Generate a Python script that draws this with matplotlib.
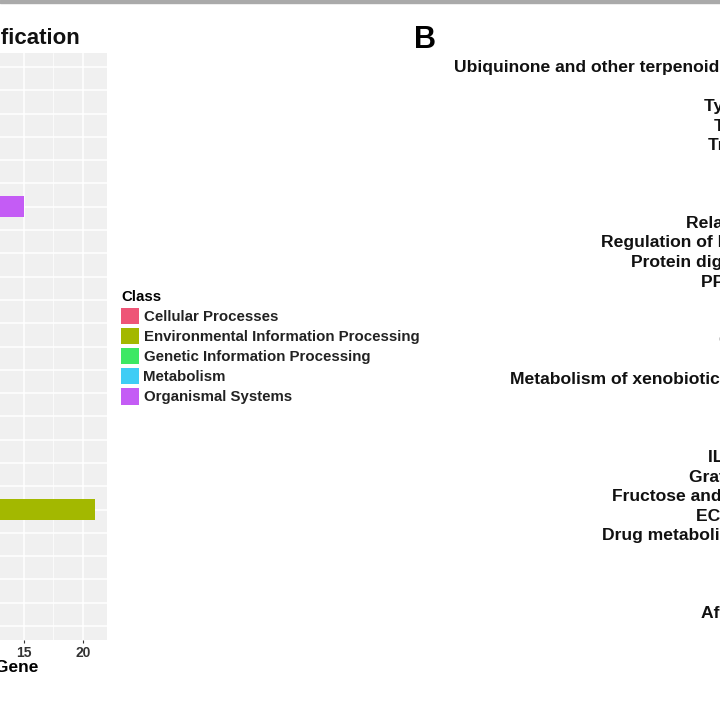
import matplotlib
matplotlib.use("Agg")
import matplotlib.pyplot as plt
from matplotlib.patches import Rectangle, Patch

plt.rcParams['font.family'] = ['Liberation Sans', 'DejaVu Sans']

# ---------------- data: panel A (KEGG classification) ----------------
classes = ["Cellular Processes", "Environmental Information Processing",
           "Genetic Information Processing", "Metabolism", "Organismal Systems"]
class_colors = ["#EE5577", "#A3B800", "#3DE864", "#3FCDF5", "#C45CF5"]

# listed top to bottom
categories = [
    "Sensory system", "Nervous system", "Excretory system", "Environmental adaptation",
    "Endocrine system", "Digestive system", "Immune system", "Circulatory system", "Aging",
    "Xenobiotics biodegradation and metabolism", "Metabolism of terpenoids and polyketides",
    "Metabolism of cofactors and vitamins", "Metabolism of other amino acids",
    "Lipid metabolism", "Glycan biosynthesis and metabolism", "Carbohydrate metabolism",
    "Amino acid metabolism",
    "Translation", "Folding, sorting and degradation",
    "Signal transduction", "Signaling molecules and interaction",
    "Transport and catabolism", "Cellular community - eukaryotes", "Cell motility",
    "Cell growth and death",
]
category_class = [4] * 9 + [3] * 8 + [2] * 2 + [1] * 2 + [0] * 4
gene_counts = [2, 6, 3, 2, 11, 7, 15, 4, 3,
               6, 2, 4, 3, 9, 3, 8, 5,
               2, 3,
               21, 12,
               5, 6, 3, 7]
x_ticks = [0, 5, 10, 15, 20]

# ---------------- data: panel B (enriched pathways, top to bottom) ----------------
pathways = [
    "Ubiquinone and other terpenoid-quinone biosynthesis", "Malaria",
    "Type II diabetes mellitus", "TNF signaling pathway", "Tryptophan metabolism",
    "Phagosome", "Lysosome", "Apoptosis",
    "Relaxin signaling pathway", "Regulation of lipolysis in adipocytes",
    "Protein digestion and absorption", "PPAR signaling pathway",
    "Pertussis", "Measles", "Galactose metabolism", "Asthma",
    "Metabolism of xenobiotics by cytochrome P450",
    "Necroptosis", "Tuberculosis", "Ferroptosis",
    "IL-17 signaling pathway", "Graft-versus-host disease",
    "Fructose and mannose metabolism", "ECM-receptor interaction",
    "Drug metabolism - cytochrome P450",
    "Leishmaniasis", "Toxoplasmosis", "Influenza A",
    "African trypanosomiasis", "Shigellosis",
]

W = H = 720
fig = plt.figure(figsize=(7.2, 7.2), dpi=100)

def px_rect(x0, y_top, x1, y_bot):
    return [x0 / W, 1 - y_bot / H, (x1 - x0) / W, (y_bot - y_top) / H]

# top gray strip
fig.patches.append(Rectangle((0, 1 - 3 / H), 1, 3 / H, transform=fig.transFigure,
                             color="#AAAAAA", zorder=0))

# ---------------- panel A ----------------
axA = fig.add_axes(px_rect(-165, 53, 107, 640))
axA.set_facecolor("#F0F0F0")
n = len(categories)
ypos = list(range(n))
for ci, cname in enumerate(classes):
    ys = [y for y, c in zip(ypos, category_class) if c == ci]
    vs = [v for v, c in zip(gene_counts, category_class) if c == ci]
    axA.barh(ys, vs, height=0.9, color=class_colors[ci], label=cname, zorder=3)
axA.set_ylim(n - 1 + 0.6, -0.6)
axA.set_xlim(-0.05 * max(gene_counts), max(gene_counts) * 1.05)
axA.set_yticks(ypos)
axA.set_yticklabels(categories)
axA.set_xticks(x_ticks)
axA.set_xticks([2.5, 7.5, 12.5, 17.5], minor=True)
axA.grid(True, which="major", color="white", linewidth=1.1, zorder=0)
axA.grid(True, which="minor", axis="x", color="white", linewidth=0.5, zorder=0)
axA.set_axisbelow(True)
for s in axA.spines.values():
    s.set_visible(False)
axA.tick_params(axis="x", which="major", length=2.5, width=0.8, color="#333333",
                labelsize=10, labelcolor="#333333", pad=1.5)
for t in axA.get_xticklabels():
    t.set_fontweight("bold")
axA.tick_params(axis="x", which="minor", length=0)
axA.tick_params(axis="y", length=2.5, labelsize=10)
axA.set_xlabel("Number of Gene", fontsize=12.5, fontweight="bold", labelpad=0.5)

fig.text(80 / W, 1 - 38 / H, "KEGG Classification", ha="right", va="center",
         fontsize=16, fontweight="bold", color="#111111")

handles = [Patch(facecolor=c, edgecolor="none") for c in class_colors]
leg = fig.legend(handles, classes, loc="upper left",
                 bbox_to_anchor=(121 / W, 1 - 290 / H), frameon=False,
                 title="Class", alignment="left",
                 prop={"size": 10.8, "weight": "bold"},
                 title_fontproperties={"size": 10.8, "weight": "bold"},
                 handlelength=1.2, handleheight=1.3, handletextpad=0.3,
                 labelspacing=0.25, borderpad=0, borderaxespad=0)
for t in leg.get_texts():
    t.set_color("#222222")

# ---------------- panel B ----------------
fig.text(414 / W, 1 - 40 / H, "B", ha="left", va="center",
         fontsize=22, fontweight="heavy", color="#000000")
axB = fig.add_axes(px_rect(909, 54.3, 1200, 643.2))
m = len(pathways)
axB.set_ylim(m - 1 + 0.6, -0.6)
axB.set_yticks(range(m))
axB.set_yticklabels(pathways, fontsize=12.6, fontweight="bold", color="#111111")
axB.tick_params(axis="y", length=0, pad=3)
axB.set_xticks([])
for s in axB.spines.values():
    s.set_visible(False)

fig.savefig("out.png", dpi=100)
